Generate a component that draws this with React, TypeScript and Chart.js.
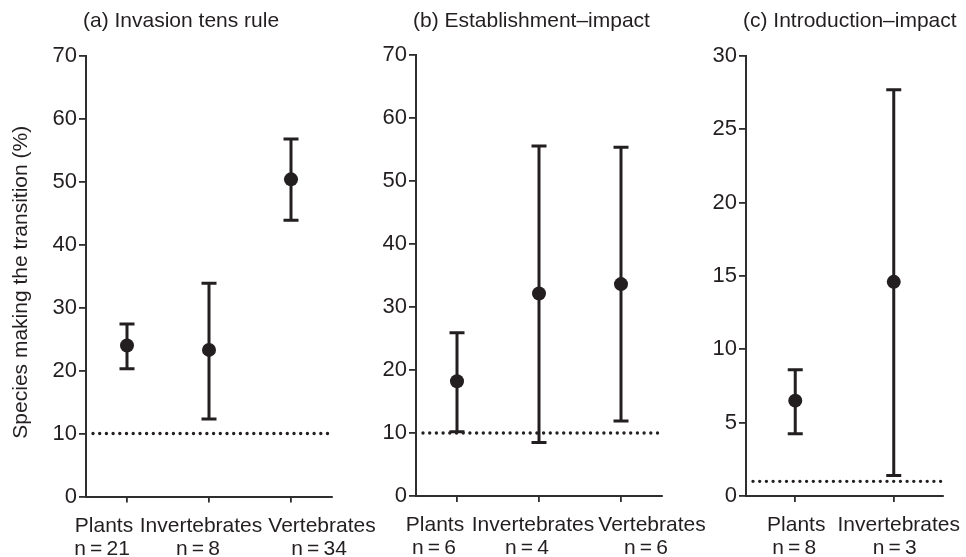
import React, { useEffect, useRef } from "react";
import { Chart, registerables } from "chart.js";

Chart.register(...registerables);

const FONT_FAMILY = "'Liberation Sans', Arial, Helvetica, sans-serif";
const INK = "#231f20";
const AXIS = "#2e2e2e";
const THIN = "\u2009";

// ---------- Data ----------
const yTitle = "Species making the transition (%)";

// (a) Invasion tens rule
const titleA = "(a) Invasion tens rule";
const categoriesA = ["Plants", "Invertebrates", "Vertebrates"];
const sampleSizesA = [21, 8, 34];
const meansA = [24.0, 23.3, 50.4];
const lowerA = [20.3, 12.3, 43.9];
const upperA = [27.4, 33.9, 56.8];
const thresholdA = 10;
const yTicksA = [0, 10, 20, 30, 40, 50, 60, 70];

// (b) Establishment–impact
const titleB = "(b) Establishment\u2013impact";
const categoriesB = ["Plants", "Invertebrates", "Vertebrates"];
const sampleSizesB = [6, 4, 6];
const meansB = [18.2, 32.1, 33.6];
const lowerB = [10.2, 8.5, 11.9];
const upperB = [25.9, 55.5, 55.3];
const thresholdB = 10;
const yTicksB = [0, 10, 20, 30, 40, 50, 60, 70];

// (c) Introduction–impact
const titleC = "(c) Introduction\u2013impact";
const categoriesC = ["Plants", "Invertebrates"];
const sampleSizesC = [8, 3];
const meansC = [6.5, 14.6];
const lowerC = [4.25, 1.4];
const upperC = [8.6, 27.7];
const thresholdC = 1;
const yTicksC = [0, 5, 10, 15, 20, 25, 30];

// ---------- Layout / style (not data) ----------
const W = 966;
const H = 557;

type Layout = {
  padLeft: number;
  axisWidth: number;
  padRight: number;
  padTop: number;
  axisHeight: number;
  shift1: number[];
  shift2: number[];
  showYTitle: boolean;
};

const layoutA: Layout = { padLeft: 0, axisWidth: 86, padRight: 634, padTop: 56, axisHeight: 60.5, shift1: [-23, -8, 31], shift2: [-25, -11, 28], showYTitle: true };
const layoutB: Layout = { padLeft: 340, axisWidth: 76, padRight: 304, padTop: 54.5, axisHeight: 61, shift1: [-22, -6, 31], shift2: [-23, -12, 25], showYTitle: false };
const layoutC: Layout = { padLeft: 670, axisWidth: 76, padRight: 23, padTop: 56, axisHeight: 61, shift1: [1, 5], shift2: [-1, 1], showYTitle: false };

type Panel = {
  title: string;
  categories: string[];
  n: number[];
  means: number[];
  lower: number[];
  upper: number[];
  threshold: number;
  yTicks: number[];
  layout: Layout;
};

const panels: Panel[] = [
  { title: titleA, categories: categoriesA, n: sampleSizesA, means: meansA, lower: lowerA, upper: upperA, threshold: thresholdA, yTicks: yTicksA, layout: layoutA },
  { title: titleB, categories: categoriesB, n: sampleSizesB, means: meansB, lower: lowerB, upper: upperB, threshold: thresholdB, yTicks: yTicksB, layout: layoutB },
  { title: titleC, categories: categoriesC, n: sampleSizesC, means: meansC, lower: lowerC, upper: upperC, threshold: thresholdC, yTicks: yTicksC, layout: layoutC },
];

function makePlugin(p: Panel) {
  return {
    id: "panelDecor",
    beforeDatasetsDraw(chart: any) {
      const { ctx, chartArea } = chart;
      const xs = chart.scales.x;
      const ys = chart.scales.y;
      ctx.save();
      // dotted threshold line
      const ty = ys.getPixelForValue(p.threshold);
      ctx.strokeStyle = INK;
      ctx.lineWidth = 3.4;
      ctx.lineCap = "round";
      ctx.setLineDash([0, 6.7]);
      ctx.beginPath();
      ctx.moveTo(chartArea.left + 7, ty);
      ctx.lineTo(chartArea.right - 2, ty);
      ctx.stroke();
      ctx.setLineDash([]);
      // error bars
      ctx.lineCap = "butt";
      ctx.lineWidth = 3;
      p.lower.forEach((lo, i) => {
        const px = xs.getPixelForValue(i);
        const y1 = ys.getPixelForValue(lo);
        const y2 = ys.getPixelForValue(p.upper[i]);
        ctx.beginPath();
        ctx.moveTo(px, y1);
        ctx.lineTo(px, y2);
        ctx.moveTo(px - 7.5, y1);
        ctx.lineTo(px + 7.5, y1);
        ctx.moveTo(px - 7.5, y2);
        ctx.lineTo(px + 7.5, y2);
        ctx.stroke();
      });
      ctx.restore();
    },
    afterDraw(chart: any) {
      const { ctx, chartArea } = chart;
      const xs = chart.scales.x;
      ctx.save();
      ctx.fillStyle = INK;
      // panel title
      ctx.font = `21px ${FONT_FAMILY}`;
      ctx.textAlign = "left";
      ctx.textBaseline = "alphabetic";
      ctx.fillText(p.title, chartArea.left - 3, 27);
      // x category labels (two lines)
      ctx.textAlign = "center";
      p.categories.forEach((c, i) => {
        const px = xs.getPixelForValue(i);
        ctx.fillText(c, px + p.layout.shift1[i], chartArea.bottom + 35);
        ctx.fillText(`n${THIN}=${THIN}${p.n[i]}`, px + p.layout.shift2[i], chartArea.bottom + 58);
      });
      // y title
      if (p.layout.showYTitle) {
        ctx.translate(21, (chartArea.top + chartArea.bottom) / 2 + 6);
        ctx.rotate(-Math.PI / 2);
        ctx.textAlign = "center";
        ctx.textBaseline = "middle";
        ctx.fillText(yTitle, 0, 0);
      }
      ctx.restore();
    },
  };
}

function PanelChart({ p }: { p: Panel }) {
  const ref = useRef<HTMLCanvasElement | null>(null);
  useEffect(() => {
    if (!ref.current) return;
    const L = p.layout;
    const chart = new Chart(ref.current, {
      type: "line",
      data: {
        labels: p.categories,
        datasets: [
          {
            data: p.means,
            showLine: false,
            pointRadius: 7,
            pointHoverRadius: 7,
            pointBackgroundColor: INK,
            pointBorderWidth: 0,
            borderColor: INK,
          },
        ],
      },
      options: {
        responsive: false,
        animation: false,
        events: [],
        layout: { padding: { left: L.padLeft, right: L.padRight, top: L.padTop, bottom: 0 } },
        plugins: { legend: { display: false }, tooltip: { enabled: false }, title: { display: false } },
        scales: {
          x: {
            type: "category",
            offset: true,
            grid: { offset: false, drawOnChartArea: false, drawTicks: true, tickLength: 6, color: AXIS, lineWidth: 1.8 },
            border: { display: true, color: AXIS, width: 2 },
            ticks: { display: false },
            afterFit(scale: any) {
              scale.height = L.axisHeight;
              scale.paddingLeft = 0;
              scale.paddingRight = 0;
            },
          },
          y: {
            type: "linear",
            min: p.yTicks[0],
            max: p.yTicks[p.yTicks.length - 1],
            grid: { drawOnChartArea: false, drawTicks: true, tickLength: 7, color: AXIS, lineWidth: 1.8 },
            border: { display: true, color: AXIS, width: 2 },
            ticks: { color: INK, font: { family: FONT_FAMILY, size: 22 }, padding: 2 },
            afterBuildTicks(scale: any) {
              scale.ticks = p.yTicks.map((v) => ({ value: v }));
            },
            afterFit(scale: any) {
              scale.width = L.axisWidth;
              scale.paddingTop = 0;
              scale.paddingBottom = 0;
            },
          },
        },
      },
      plugins: [makePlugin(p)],
    } as any);
    return () => chart.destroy();
  }, [p]);
  return (
    <canvas
      ref={ref}
      width={W}
      height={H}
      style={{ position: "absolute", left: 0, top: 0, width: W, height: H }}
    />
  );
}

export default function App() {
  return (
    <div style={{ position: "fixed", left: 0, top: 0, width: W, height: H, background: "#ffffff" }}>
      {panels.map((p, i) => (
        <PanelChart key={i} p={p} />
      ))}
    </div>
  );
}
